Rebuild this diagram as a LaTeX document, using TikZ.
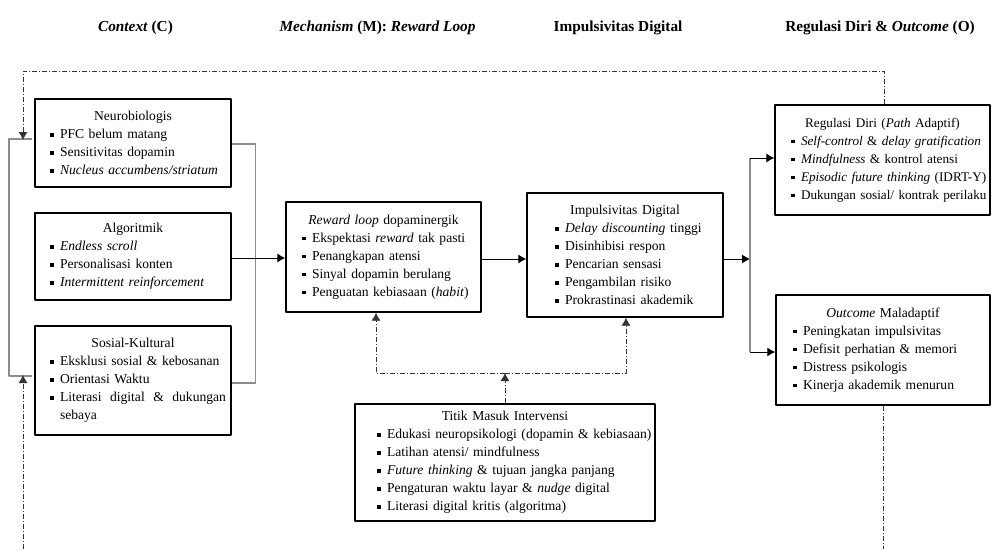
\documentclass[tikz,border=0pt]{standalone}
\usepackage{fontspec}
\setmainfont{Liberation Serif}
\usetikzlibrary{arrows.meta}
\newcommand{\butir}[1]{\par\noindent\makebox[10pt][l]{\rule[0.3ex]{3.8pt}{3.8pt}}\mbox{#1}}
\newcommand{\judul}[1]{{\centering #1\par}}
\begin{document}
\begin{tikzpicture}[x=1pt,y=-1pt,line join=round,>={Latex[length=8pt,width=9pt]},
  kotak/.style={draw,line width=1.4pt,align=left,inner ysep=2pt,font=\fontsize{13.6}{18}\selectfont},
  kepala/.style={font=\fontsize{15.3}{18}\selectfont\bfseries},
  panah/.style={->,line width=0.9pt},
  abu/.style={line width=1.2pt,draw=black!45},
  titik/.style={line width=0.8pt,draw=black!80,dash pattern=on 5pt off 2pt on 1pt off 2pt}]
\useasboundingbox (0,0) rectangle (992,549);

% judul kolom
\node[kepala] (hC) at (135.5,28) {\textit{Context} (C)};
\node[kepala] (hM) at (377.5,28) {\textit{Mechanism} (M): \textit{Reward Loop}};
\node[kepala] (hI) at (618,28) {Impulsivitas Digital};
\node[kepala] (hO) at (880,28) {Regulasi Diri \& \textit{Outcome} (O)};

% konteks
\node[kotak,minimum width=196pt,minimum height=88pt,inner xsep=15pt,text width=166pt] (neuro) at (133,143)
  {\judul{Neurobiologis}\butir{PFC belum matang}\butir{Sensitivitas dopamin}\butir{\textit{Nucleus accumbens/striatum}}};
\node[kotak,minimum width=196pt,minimum height=87pt,inner xsep=15pt,text width=166pt] (algo) at (133,256.5)
  {\judul{Algoritmik}\butir{\textit{Endless scroll}}\butir{Personalisasi konten}\butir{\textit{Intermittent reinforcement}}};
\node[kotak,minimum width=196pt,minimum height=109pt,inner xsep=15pt,text width=166pt] (sosial) at (133,380.5)
  {\judul{Sosial-Kultural}\butir{Eksklusi sosial \& kebosanan}\butir{Orientasi Waktu}%
   \butir{\makebox[166pt][l]{Literasi\hfill digital\hfill\&\hfill dukungan}}\par\noindent\hspace*{10pt}sebaya};

% mekanisme
\node[kotak,minimum width=195pt,minimum height=110pt,inner xsep=16pt,text width=163pt] (reward) at (383.5,257)
  {\judul{\textit{Reward loop} dopaminergik}\butir{Ekspektasi \textit{reward} tak pasti}\butir{Penangkapan atensi}%
   \butir{Sinyal dopamin berulang}\butir{Penguatan kebiasaan (\textit{habit})}};
\node[kotak,minimum width=196pt,minimum height=124pt,inner xsep=28pt,text width=140pt] (impuls) at (625,255)
  {\judul{Impulsivitas Digital}\butir{\textit{Delay discounting} tinggi}\butir{Disinhibisi respon}%
   \butir{Pencarian sensasi}\butir{Pengambilan risiko}\butir{Prokrastinasi akademik}};

% regulasi dan outcome
\node[kotak,minimum width=215pt,minimum height=110pt,inner xsep=16pt,text width=183pt,
  font=\fontsize{13.2}{18}\selectfont] (regulasi) at (882.5,160)
  {\judul{Regulasi Diri (\textit{Path} Adaptif)}\butir{\textit{Self-control} \& \textit{delay gratification}}%
   \butir{\textit{Mindfulness} \& kontrol atensi}\butir{\textit{Episodic future thinking} (IDRT-Y)}\butir{Dukungan sosial/ kontrak perilaku}};
\node[kotak,minimum width=214pt,minimum height=110pt,inner xsep=17pt,text width=180pt] (outcome) at (883,350)
  {\judul{\textit{Outcome} Maladaptif}\butir{Peningkatan impulsivitas}\butir{Defisit perhatian \& memori}%
   \butir{Distress psikologis}\butir{Kinerja akademik menurun}};

% intervensi
\node[kotak,minimum width=300pt,minimum height=117pt,inner xsep=22pt,text width=256pt] (intervensi) at (505,462.5)
  {\judul{Titik Masuk Intervensi}\butir{Edukasi neuropsikologi (dopamin \& kebiasaan)}\butir{Latihan atensi/ mindfulness}%
   \butir{\textit{Future thinking} \& tujuan jangka panjang}\butir{Pengaturan waktu layar \& \textit{nudge} digital}%
   \butir{Literasi digital kritis (algoritma)}};

\coordinate (kiriA) at (9,139);
\coordinate (kiriB) at (9,376);
\coordinate (cabang) at (750,259);
\coordinate (umpanAtas) at (23,71);
\coordinate (umpanBawah) at (23,549);
\coordinate (tepiKanan) at (883,549);
\coordinate (simpul) at (505,373);

% kurung kiri dan kanan
\draw[abu] ([xshift=-2pt]neuro.west |- kiriA) -- (kiriA) -- (kiriB) -- ([xshift=-2pt]sosial.west |- kiriB);
\draw[abu] ([yshift=-1pt]neuro.east) -- ++(24,0) |- ([yshift=-2.5pt]sosial.east);

% alur utama
\draw[panah] (algo.east |- 0,258) -- (reward.west |- 0,258);
\draw[panah] (reward.east |- cabang) -- (impuls.west |- cabang);
\draw[panah] (impuls.east |- cabang) -- (cabang);
\draw[abu] (cabang |- 0,158) -- (cabang |- 0,352);
\draw[panah] (cabang |- 0,158) -- (regulasi.west |- 0,158);
\draw[panah] (cabang |- 0,352) -- (outcome.west |- 0,352);

% umpan balik
\draw[titik,->] ([xshift=1.5pt]regulasi.north) |- (umpanAtas) -- ([yshift=-1pt]kiriA -| umpanAtas);
\draw[titik] (outcome.south) -- (tepiKanan);
\draw[titik,->] (umpanBawah) -- ([yshift=1pt]kiriB -| umpanBawah);

% intervensi
\draw[titik,->] (intervensi.north) -- (simpul);
\draw[titik,->] (simpul) -| ([xshift=-7.5pt]reward.south);
\draw[titik,->] (simpul) -| ([xshift=1pt]impuls.south);
\end{tikzpicture}
\end{document}
